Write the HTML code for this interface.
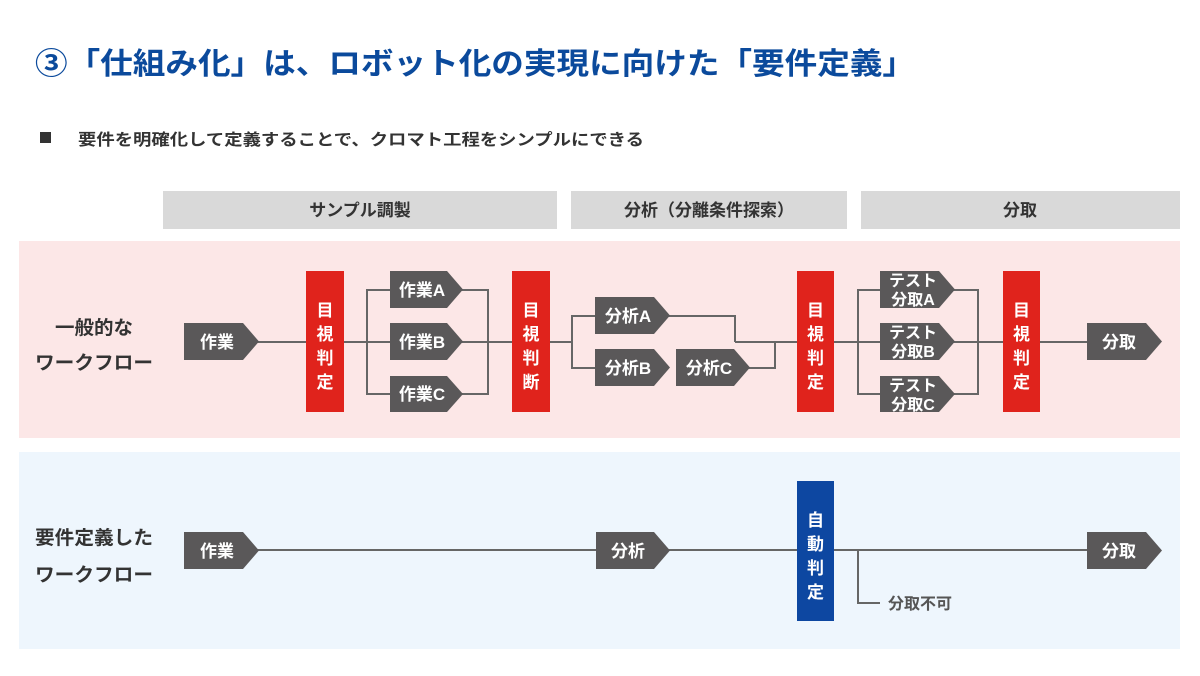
<!DOCTYPE html>
<html><head><meta charset="utf-8"><style>
html,body{margin:0;padding:0;background:#fff;}
svg{display:block;font-family:"Liberation Sans","Noto Sans CJK JP",sans-serif;}
</style></head><body>
<svg width="1200" height="676" viewBox="0 0 1200 676" xmlns="http://www.w3.org/2000/svg">
<text x="35" y="74" font-size="30" font-weight="bold" fill="#0b4a9c" textLength="880" lengthAdjust="spacingAndGlyphs">③「仕組み化」は、ロボット化の実現に向けた「要件定義」</text>
<rect x="40" y="132" width="11" height="11" fill="#333"/>
<text x="78" y="145" font-size="16" font-weight="bold" fill="#333" textLength="566" lengthAdjust="spacingAndGlyphs">要件を明確化して定義することで、クロマト工程をシンプルにできる</text>

<g fill="#d9d9d9">
<rect x="163" y="191" width="394" height="38"/>
<rect x="571" y="191" width="276" height="38"/>
<rect x="861" y="191" width="319" height="38"/>
</g>
<g font-size="17" font-weight="bold" fill="#333" text-anchor="middle">
<text x="360" y="216">サンプル調製</text>
<text x="709" y="216">分析（分離条件探索）</text>
<text x="1020" y="216">分取</text>
</g>

<rect x="19" y="241" width="1161" height="197" fill="#fce7e7"/>
<rect x="19" y="452" width="1161" height="197" fill="#eef6fd"/>

<g font-size="19" font-weight="bold" fill="#333">
<text x="55" y="334" textLength="78" lengthAdjust="spacingAndGlyphs">一般的な</text>
<text x="35" y="369" textLength="118" lengthAdjust="spacingAndGlyphs">ワークフロー</text>
<text x="35" y="544" textLength="118" lengthAdjust="spacingAndGlyphs">要件定義した</text>
<text x="35" y="581" textLength="118" lengthAdjust="spacingAndGlyphs">ワークフロー</text>
</g>

<g stroke="#666" stroke-width="2" fill="none">
<line x1="250" y1="342" x2="572" y2="342"/>
<line x1="735" y1="342" x2="1090" y2="342"/>
<polyline points="392,290 367,290 367,394 392,394"/>
<polyline points="455,290 488,290 488,394 455,394"/>
<polyline points="597,316 572,316 572,368 597,368"/>
<polyline points="660,316 735,316 735,342"/>
<polyline points="745,368 775,368 775,342"/>
<polyline points="882,290 858,290 858,394 882,394"/>
<polyline points="947,290 978,290 978,394 947,394"/>
<line x1="250" y1="550" x2="1090" y2="550"/>
<polyline points="858,550 858,603 880,603"/>
</g>

<g fill="#5a5859">
<polygon points="184,323 243,323 259,341.5 243,360 184,360"/>
<polygon points="390,271 447,271 463,289.5 447,308 390,308"/>
<polygon points="390,323 447,323 463,341.5 447,360 390,360"/>
<polygon points="390,376 447,376 463,394 447,412 390,412"/>
<polygon points="595,297 654,297 670,315.5 654,334 595,334"/>
<polygon points="595,349 654,349 670,367.5 654,386 595,386"/>
<polygon points="676,349 734,349 750,367.5 734,386 676,386"/>
<polygon points="880,271 939,271 955,289.5 939,308 880,308"/>
<polygon points="880,323 939,323 955,341.5 939,360 880,360"/>
<polygon points="880,376 939,376 955,394 939,412 880,412"/>
<polygon points="1087,323 1146,323 1162,341.5 1146,360 1087,360"/>
<polygon points="184,532 243,532 259,550.5 243,569 184,569"/>
<polygon points="596,532 654,532 670,550.5 654,569 596,569"/>
<polygon points="1087,532 1146,532 1162,550.5 1146,569 1087,569"/>
</g>

<g fill="#e0231c">
<rect x="306" y="271" width="38" height="141"/>
<rect x="512" y="271" width="38" height="141"/>
<rect x="797" y="271" width="37" height="141"/>
<rect x="1003" y="271" width="37" height="141"/>
</g>
<rect x="797" y="481" width="37" height="140" fill="#0d47a1"/>

<g font-size="17" font-weight="bold" fill="#fff" text-anchor="middle">
<text x="217" y="348">作業</text>
<text x="422" y="296">作業A</text>
<text x="422" y="348">作業B</text>
<text x="422" y="400">作業C</text>
<text x="628" y="322">分析A</text>
<text x="628" y="374">分析B</text>
<text x="709" y="374">分析C</text>
<text x="913" y="286" font-size="16">テスト</text>
<text x="913" y="305" font-size="16">分取A</text>
<text x="913" y="338" font-size="16">テスト</text>
<text x="913" y="357" font-size="16">分取B</text>
<text x="913" y="391" font-size="16">テスト</text>
<text x="913" y="410" font-size="16">分取C</text>
<text x="1119" y="348">分取</text>
<text x="217" y="557">作業</text>
<text x="628" y="557">分析</text>
<text x="1119" y="557">分取</text>
<g>
<text x="325" y="316">目</text><text x="325" y="340">視</text><text x="325" y="364">判</text><text x="325" y="388">定</text>
<text x="531" y="316">目</text><text x="531" y="340">視</text><text x="531" y="364">判</text><text x="531" y="388">断</text>
<text x="815.5" y="316">目</text><text x="815.5" y="340">視</text><text x="815.5" y="364">判</text><text x="815.5" y="388">定</text>
<text x="1021.5" y="316">目</text><text x="1021.5" y="340">視</text><text x="1021.5" y="364">判</text><text x="1021.5" y="388">定</text>
<text x="815.5" y="526">自</text><text x="815.5" y="550">動</text><text x="815.5" y="574">判</text><text x="815.5" y="598">定</text>
</g>
</g>
<text x="888" y="609" font-size="16" font-weight="bold" fill="#555">分取不可</text>
</svg>
</body></html>
